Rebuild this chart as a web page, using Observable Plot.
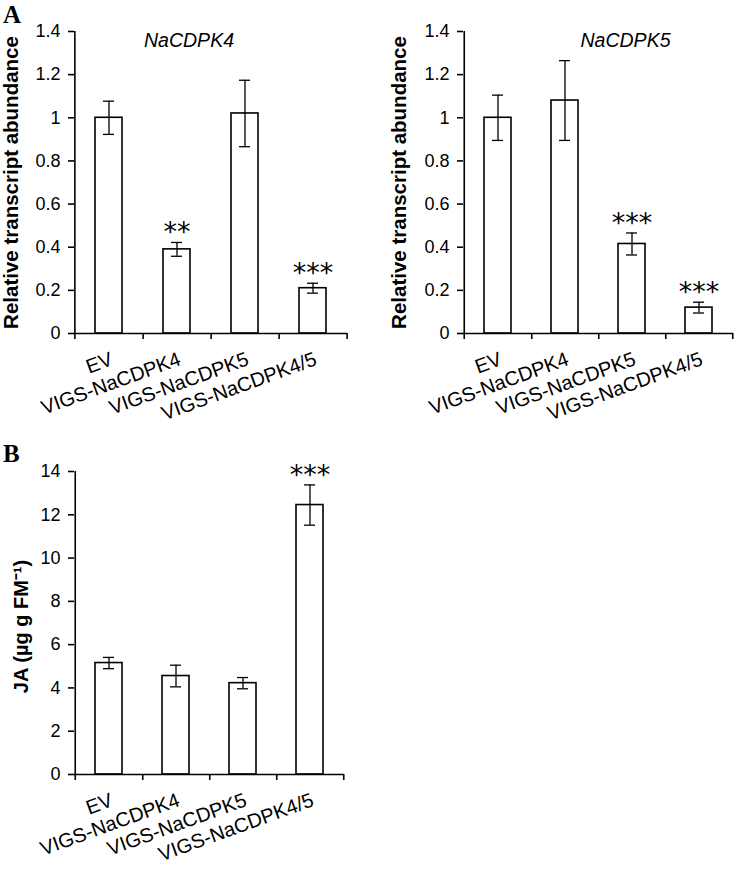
<!DOCTYPE html>
<html>
<head>
<meta charset="utf-8">
<script src="https://cdn.jsdelivr.net/npm/d3@7"></script>
<script src="https://cdn.jsdelivr.net/npm/@observablehq/plot@0.6"></script>
<style>
  html, body { margin: 0; padding: 0; background: #fff; }
  #fig { position: relative; width: 738px; height: 871px; overflow: hidden; font-family: "Liberation Sans", Arial, sans-serif; background: #fff; }
  .panel { position: absolute; }
  .letter { position: absolute; z-index: 5; font-family: "Liberation Serif", "Times New Roman", serif; font-weight: bold; font-size: 25px; line-height: 1; color: #000; }
</style>
</head>
<body>
<div id="fig">
  <div class="panel" id="p1" style="left:0px; top:0px;"></div>
  <div class="panel" id="p2" style="left:370px; top:0px;"></div>
  <div class="panel" id="p3" style="left:0px; top:440px;"></div>
  <div class="letter" style="left:3px; top:2px;">A</div>
  <div class="letter" style="left:3px; top:441px;">B</div>
</div>
<script>
const categories = ["EV", "VIGS-NaCDPK4", "VIGS-NaCDPK5", "VIGS-NaCDPK4/5"];

const cdpk4Mean = [1.00, 0.39, 1.02, 0.21];
const cdpk4Err  = [0.077, 0.032, 0.154, 0.023];
const cdpk4Sig  = ["", "**", "", "***"];

const cdpk5Mean = [1.00, 1.08, 0.415, 0.12];
const cdpk5Err  = [0.105, 0.185, 0.051, 0.025];
const cdpk5Sig  = ["", "", "***", "***"];

const jaMean = [5.15, 4.55, 4.22, 12.45];
const jaErr  = [0.26, 0.50, 0.26, 0.93];
const jaSig  = ["", "", "", "***"];

const transcriptTicks = [0, 0.2, 0.4, 0.6, 0.8, 1, 1.2, 1.4];
const jaTicks = [0, 2, 4, 6, 8, 10, 12, 14];

function panel({mean, err, sig, ticks, title, yLabel, width, height, margins, titleDx, labelDx, labelDy, labelSize}) {
  const data = categories.map((c, i) => ({cat: c, mean: mean[i], err: err[i], sig: sig[i]}));
  const yMax = ticks[ticks.length - 1];
  const [mt, mr, mb, ml] = margins;
  const step = (width - ml - mr) / categories.length;
  const marks = [
    Plot.barY(data, {x: "cat", y: "mean", fill: "white", stroke: "black", strokeWidth: 1.6}),
    Plot.ruleX(data, {x: "cat", y1: d => d.mean - d.err, y2: d => d.mean + d.err, stroke: "black", strokeWidth: 1.3}),
    Plot.tickY(data, {x: "cat", y: d => d.mean - d.err, insetLeft: 8, insetRight: 8, stroke: "black", strokeWidth: 1.3}),
    Plot.tickY(data, {x: "cat", y: d => d.mean + d.err, insetLeft: 8, insetRight: 8, stroke: "black", strokeWidth: 1.3}),
    Plot.ruleY([0], {stroke: "black", strokeWidth: 1.6}),
    Plot.ruleX([categories[0]], {x: d => d, y1: yMax, y2: 0, dx: -step / 2, insetBottom: -6, stroke: "black", strokeWidth: 1.6}),
    Plot.ruleX(categories, {x: d => d, y1: 0, y2: 0, dx: step / 2, insetBottom: -6, stroke: "black", strokeWidth: 1.6}),
    Plot.axisY({ticks: ticks, tickFormat: d => String(d), tickSize: 6, tickPadding: 8, fontSize: 18, label: null, stroke: "black", strokeWidth: 1.6, fill: "black"}),
    Plot.text(categories, {x: d => d, frameAnchor: "bottom", rotate: -20, textAnchor: "end", lineAnchor: "bottom", dy: 31, dx: 5, fontSize: 20, fill: "black"}),
    Plot.text(data.filter(d => d.sig), {x: "cat", y: d => d.mean + d.err, text: "sig", lineAnchor: "bottom", dy: -1, fontSize: 27, fontFamily: "DejaVu Sans", fill: "black"}),
    Plot.text([yLabel], {frameAnchor: "left", rotate: -90, textAnchor: "middle", lineAnchor: "middle", dx: labelDx, dy: labelDy, fontSize: labelSize, fontWeight: "bold", fill: "black"})
  ];
  if (title) {
    marks.push(Plot.text([title], {frameAnchor: "top", lineAnchor: "bottom", dx: titleDx, dy: 15.5, fontSize: 19.5, fontStyle: "italic", fill: "black"}));
  }
  return Plot.plot({
    width, height,
    marginTop: mt, marginRight: mr, marginBottom: mb, marginLeft: ml,
    style: {fontFamily: "'Liberation Sans', Arial, sans-serif", color: "black", background: "white", overflow: "visible"},
    x: {domain: categories, paddingInner: 0.6, paddingOuter: 0.3, axis: null},
    y: {domain: [0, yMax], axis: null},
    marks
  });
}

document.getElementById("p1").appendChild(panel({
  mean: cdpk4Mean, err: cdpk4Err, sig: cdpk4Sig, ticks: transcriptTicks,
  title: "NaCDPK4", yLabel: "Relative transcript abundance",
  width: 370, height: 440, margins: [31, 23, 107, 74], titleDx: -22, labelDx: -63, labelDy: 0, labelSize: 20.5
}));
document.getElementById("p2").appendChild(panel({
  mean: cdpk5Mean, err: cdpk5Err, sig: cdpk5Sig, ticks: transcriptTicks,
  title: "NaCDPK5", yLabel: "Relative transcript abundance",
  width: 368, height: 440, margins: [31, 5, 107, 93], titleDx: 27, labelDx: -64, labelDy: 0, labelSize: 20.5
}));
document.getElementById("p3").appendChild(panel({
  mean: jaMean, err: jaErr, sig: jaSig, ticks: jaTicks,
  title: null, yLabel: "JA (µg g FM⁻¹)",
  width: 370, height: 431, margins: [31, 26, 97, 74], titleDx: 0, labelDx: -53, labelDy: 3.5, labelSize: 20
}));
</script>
</body>
</html>
